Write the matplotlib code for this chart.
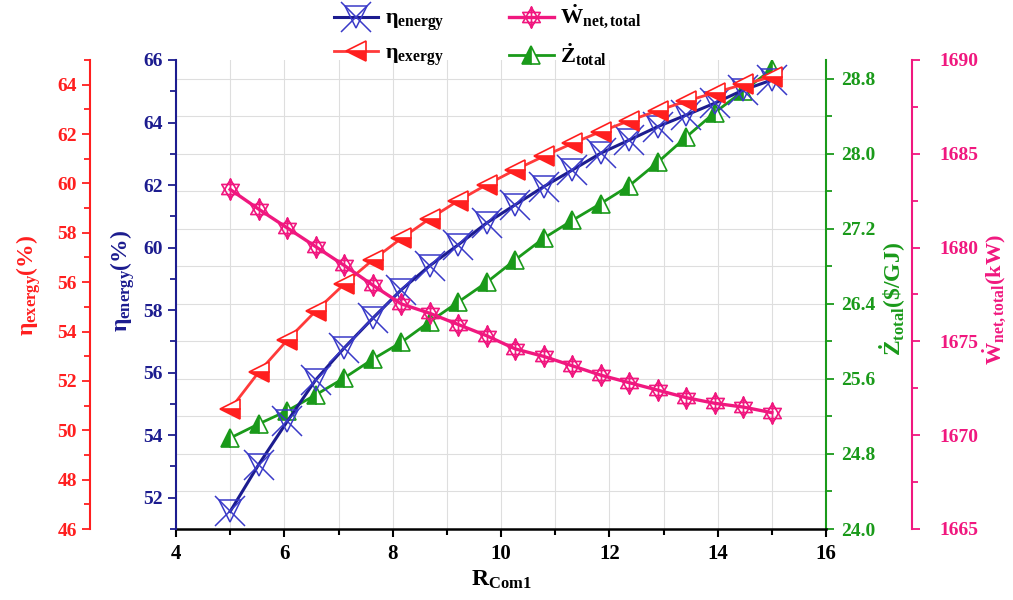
import matplotlib
matplotlib.use("Agg")
import matplotlib.pyplot as plt
from matplotlib.path import Path
from matplotlib.ticker import MultipleLocator, FormatStrFormatter
from matplotlib.legend_handler import HandlerTuple

plt.rcParams['font.family'] = ['Liberation Serif', 'DejaVu Serif']
plt.rcParams['font.weight'] = 'bold'
plt.rcParams['axes.labelweight'] = 'bold'
plt.rcParams['mathtext.fontset'] = 'custom'
plt.rcParams['mathtext.rm'] = 'Liberation Serif'
plt.rcParams['mathtext.bf'] = 'Liberation Serif:bold'
plt.rcParams['mathtext.it'] = 'Liberation Serif:italic'
plt.rcParams['mathtext.default'] = 'regular'

# Compressor pressure ratio R_Com1
r_com1 = [5.0, 5.526, 6.053, 6.579, 7.105, 7.632, 8.158, 8.684, 9.211, 9.737,
          10.263, 10.789, 11.316, 11.842, 12.368, 12.895, 13.421, 13.947, 14.474, 15.0]

eta_energy = [51.56, 53.06, 54.44, 55.77, 56.79, 57.74, 58.65, 59.42, 60.09, 60.79,
              61.37, 61.95, 62.48, 63.02, 63.44, 63.87, 64.24, 64.62, 65.04, 65.36]

eta_exergy = [50.85, 52.35, 53.65, 54.83, 55.92, 56.90, 57.77, 58.57, 59.30, 59.95,
              60.55, 61.10, 61.62, 62.10, 62.54, 62.95, 63.33, 63.68, 64.01, 64.32]

w_net_total = [1683.1, 1682.05, 1681.05, 1680.05, 1679.05, 1678.0, 1677.0, 1676.5, 1675.9, 1675.3,
               1674.6, 1674.2, 1673.7, 1673.2, 1672.8, 1672.4, 1672.0, 1671.7, 1671.5, 1671.2]

z_total = [24.97, 25.12, 25.26, 25.43, 25.61, 25.81, 25.99, 26.21, 26.42, 26.63,
           26.87, 27.10, 27.29, 27.47, 27.66, 27.91, 28.18, 28.44, 28.67, 28.90]

C_BLUE = '#1c1c8f'
C_BLUE_MK = '#3a3ac8'
C_RED = '#ff1f1f'
C_GREEN = '#1a9a1a'
C_PINK = '#f0187f'

TICK_FS = 14
LABEL_FS = 17

# six-pointed star with a vertical stroke
hexa = Path(
    [(0, 1), (-0.866, -0.5), (0.866, -0.5), (0, 1),
     (0, -1), (0.866, 0.5), (-0.866, 0.5), (0, -1),
     (0, -1.1), (0, 1.1)],
    [Path.MOVETO, Path.LINETO, Path.LINETO, Path.CLOSEPOLY,
     Path.MOVETO, Path.LINETO, Path.LINETO, Path.CLOSEPOLY,
     Path.MOVETO, Path.LINETO])

fig = plt.figure(figsize=(10.13, 6.0), dpi=100)
rect = [176 / 1013, 71 / 600, 650 / 1013, 469 / 600]

# host axes: x axis, grid and the Z_total scale on the right
ax_g = fig.add_axes(rect)
ax_b = ax_g.twinx()
ax_r = ax_g.twinx()
ax_p = ax_g.twinx()

ax_g.set_xlim(4, 16)
ax_g.set_ylim(24.0, 29.0)
ax_g.xaxis.set_major_locator(MultipleLocator(2))
ax_g.xaxis.set_minor_locator(MultipleLocator(1))
ax_g.yaxis.set_major_locator(MultipleLocator(0.8))
ax_g.yaxis.set_minor_locator(MultipleLocator(0.4))
ax_g.yaxis.set_major_formatter(FormatStrFormatter('%.1f'))
ax_g.yaxis.tick_right()
ax_g.yaxis.set_label_position('right')
ax_g.grid(True, which='both', color='#dedede', lw=0.8)
ax_g.set_axisbelow(True)
for s in ['top', 'left']:
    ax_g.spines[s].set_visible(False)
ax_g.spines['right'].set_color(C_GREEN)
ax_g.spines['right'].set_linewidth(1.5)
ax_g.spines['bottom'].set_color('black')
ax_g.spines['bottom'].set_linewidth(1.8)
ax_g.tick_params(axis='y', which='both', colors=C_GREEN, direction='out', width=1.3,
                 left=False, labelleft=False, right=True, labelright=True)
ax_g.tick_params(axis='y', which='major', length=6, labelsize=TICK_FS, pad=5)
ax_g.tick_params(axis='y', which='minor', length=4)
ax_g.tick_params(axis='x', which='both', colors='black', direction='out', width=1.5)
ax_g.tick_params(axis='x', which='major', length=6, labelsize=15, pad=5)
ax_g.tick_params(axis='x', which='minor', length=4)
ax_g.set_xlabel(r'$\mathbf{R}_{\mathbf{Com1}}$', fontsize=17)
ax_g.xaxis.set_label_coords(0.5, -0.085)
ax_g.set_ylabel(r'$\dot{\mathbf{Z}}_{\mathbf{total}}$(\$/GJ)', color=C_GREEN,
                fontsize=LABEL_FS, fontweight='bold')
ax_g.yaxis.set_label_coords(1.078, 0.49)

# energy efficiency on the left
ax_b.set_ylim(51, 66)
ax_b.yaxis.tick_left()
ax_b.yaxis.set_label_position('left')
ax_b.yaxis.set_major_locator(MultipleLocator(2))
ax_b.yaxis.set_minor_locator(MultipleLocator(1))
for s in ['top', 'right', 'bottom']:
    ax_b.spines[s].set_visible(False)
ax_b.spines['left'].set_color(C_BLUE)
ax_b.spines['left'].set_linewidth(1.5)
ax_b.tick_params(axis='y', which='both', colors=C_BLUE, direction='out', width=1.3)
ax_b.tick_params(axis='y', which='major', length=6, labelsize=TICK_FS)
ax_b.tick_params(axis='y', which='minor', length=4)
ax_b.set_ylabel(r'$\mathbf{\eta}_{\mathbf{energy}}$(%)', color=C_BLUE,
                fontsize=LABEL_FS, fontweight='bold')
ax_b.yaxis.set_label_coords(-0.06, 0.53)

# exergy efficiency on an offset left spine
ax_r.set_ylim(46, 65)
ax_r.yaxis.tick_left()
ax_r.yaxis.set_label_position('left')
ax_r.yaxis.set_major_locator(MultipleLocator(2))
ax_r.yaxis.set_minor_locator(MultipleLocator(1))
for s in ['top', 'right', 'bottom']:
    ax_r.spines[s].set_visible(False)
ax_r.spines['left'].set_position(('axes', -0.1323))
ax_r.spines['left'].set_color(C_RED)
ax_r.spines['left'].set_linewidth(1.5)
ax_r.tick_params(axis='y', which='both', colors=C_RED, direction='out', width=1.3)
ax_r.tick_params(axis='y', which='major', length=6, labelsize=TICK_FS)
ax_r.tick_params(axis='y', which='minor', length=4)
ax_r.set_ylabel(r'$\mathbf{\eta}_{\mathbf{exergy}}$(%)', color=C_RED,
                fontsize=LABEL_FS, fontweight='bold')
ax_r.yaxis.set_label_coords(-0.205, 0.52)

# net power on an offset right spine
ax_p.set_ylim(1665, 1690)
ax_p.yaxis.set_major_locator(MultipleLocator(5))
ax_p.yaxis.set_minor_locator(MultipleLocator(2.5))
for s in ['top', 'left', 'bottom']:
    ax_p.spines[s].set_visible(False)
ax_p.spines['right'].set_position(('axes', 1.1323))
ax_p.spines['right'].set_color(C_PINK)
ax_p.spines['right'].set_linewidth(1.5)
ax_p.tick_params(axis='y', which='both', colors=C_PINK, direction='out', width=1.3)
ax_p.tick_params(axis='y', which='major', length=6, labelsize=TICK_FS, pad=14)
ax_p.tick_params(axis='y', which='minor', length=4)
ax_p.set_ylabel(r'$\dot{\mathbf{W}}_{\mathbf{net,total}}$(kW)', color=C_PINK,
                fontsize=16, fontweight='bold')
ax_p.yaxis.set_label_coords(1.238, 0.49)

# data series
l_g, = ax_g.plot(r_com1, z_total, color=C_GREEN, lw=2, marker='^', ms=13,
                 fillstyle='left', mfc=C_GREEN, mfcalt='white', mec=C_GREEN, mew=1.2)
l_b, = ax_b.plot(r_com1, eta_energy, color=C_BLUE, lw=2.2, marker='v', ms=16,
                 mfc='none', mec=C_BLUE_MK, mew=1.1)
x_b, = ax_b.plot(r_com1, eta_energy, ls='none', marker='x', ms=22,
                 mec=C_BLUE_MK, mew=1.1)
l_r, = ax_r.plot(r_com1, eta_exergy, color='#ff3a3a', lw=2, marker='<', ms=14,
                 fillstyle='bottom', mfc=C_RED, mfcalt='white', mec=C_RED, mew=1.2)
l_p, = ax_p.plot(r_com1, w_net_total, color=C_PINK, lw=2.4, marker=hexa, ms=16,
                 mfc='none', mec=C_PINK, mew=1.2)

fig.legend([(l_b, x_b), l_r, l_p, l_g],
           [r'$\mathrm{\eta}_{\mathrm{energy}}$', r'$\mathrm{\eta}_{\mathrm{exergy}}$',
            r'$\dot{\mathbf{W}}_{\mathbf{net,total}}$', r'$\dot{\mathbf{Z}}_{\mathbf{total}}$'],
           handler_map={tuple: HandlerTuple(ndivide=1)},
           ncol=2, loc='upper left', bbox_to_anchor=(0.31, 1.028),
           frameon=False, fontsize=16, handlelength=2.0, columnspacing=2.9,
           labelspacing=0.45, handletextpad=0.3)

fig.savefig('out.png', dpi=100)
